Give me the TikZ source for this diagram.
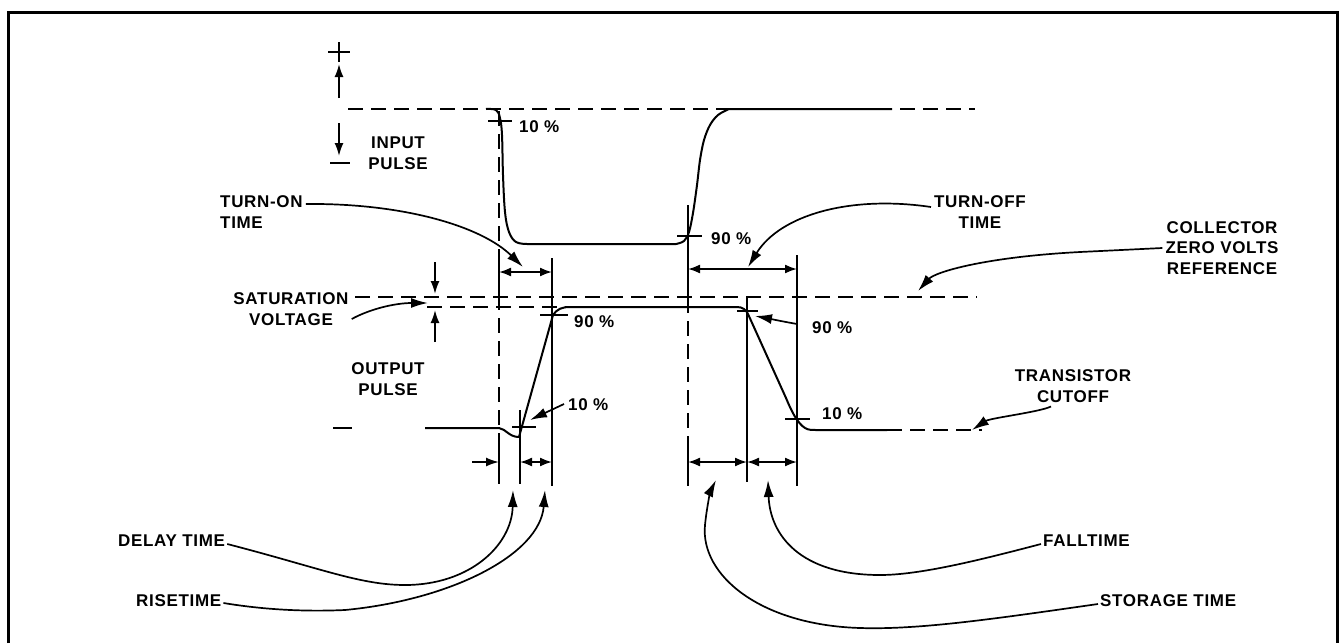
\documentclass[tikz,border=0pt]{standalone}
\usepackage{fontspec}
\setmainfont{Liberation Sans}[LetterSpace=4]
\usetikzlibrary{arrows.meta}
\begin{document}
\begin{tikzpicture}[x=1pt,y=-1pt,
  wave/.style={line width=2pt, line join=round},
  dline/.style={line width=2pt, dash pattern=on 15pt off 8pt},
  ext/.style={line width=2pt},
  tick/.style={line width=1.6pt},
  dim/.style={line width=1.8pt, {Latex[length=12pt,width=9pt]}-{Latex[length=12pt,width=9pt]}},
  onearr/.style={line width=1.8pt, -{Latex[length=13pt,width=9pt]}},
  leader/.style={line width=1.7pt, -{Latex[length=17pt,width=10pt]}},
  lbl/.style={font=\fontsize{17}{20.5}\selectfont\bfseries, align=center, inner sep=0pt},
  pct/.style={font=\fontsize{17}{20}\selectfont\bfseries, anchor=west, inner sep=0pt}]

\useasboundingbox (0,0) rectangle (1341,643);
\draw[line width=3pt] (8,643) -- (8,12) -- (1337,12) -- (1337,643);

% ---------------- input pulse ----------------
\draw[tick] (328,52) -- (350,52);
\draw[tick] (339,42) -- (339,62);
\draw[onearr] (339,98) -- (339,64);
\draw[onearr] (339,123) -- (339,156);
\draw[tick] (330,163) -- (350,163);
\draw[dline] (348,109) -- (975,109);
\draw[wave] plot[smooth, tension=0.6] coordinates {(486,109) (496,110) (500,118) (502,135) (503,175) (505,212) (509,232) (516,242) (527,244)}
  -- (676,244)
  plot[smooth, tension=0.55] coordinates {(676,244) (684,241) (689,232) (693,213) (697,185) (700,160) (704,140) (710,125) (718,115) (729,109)}
  -- (892,109);
\draw[tick] (488,121) -- (512,121);
\draw[tick] (677,236) -- (702,236);
\node[pct] (p10a) at (519,127) {10 \%};
\node[pct] (p90a) at (711,239) {90 \%};

% ---------------- verticals ----------------
\draw[dline] (499,111) -- (499,442);
\draw[ext] (499,256) -- (499,300);
\draw[ext] (499,442) -- (499,484);
\draw[ext] (520,410) -- (520,484);
\draw[ext] (552,258) -- (552,486);
\draw[ext] (688,205) -- (688,298);
\draw[dline] (688,298) -- (688,446);
\draw[ext] (688,446) -- (688,486);
\draw[ext] (747,297) -- (747,482);
\draw[ext] (797,255) -- (797,486);

% ---------------- dimension arrows ----------------
\draw[dim] (499,272) -- (552,272);
\draw[dim] (688,269) -- (797,269);
\draw[onearr] (472,462) -- (499,462);
\draw[dim] (520,462) -- (552,462);
\draw[dim] (688,462) -- (747,462);
\draw[dim] (747,462) -- (797,462);

% ---------------- output pulse ----------------
\draw[dline] (355,297) -- (977,297);
\draw[dline] (427,307) -- (568,307);
\draw[onearr] (435,262) -- (435,294);
\draw[onearr] (435,342) -- (435,310);
\draw[tick] (333,428) -- (352,428);
\draw[wave] (425,428) -- (499,428)
  .. controls (506,429) and (509,437) .. (519,437)
  -- (553,315)
  .. controls (557,309) and (562,307) .. (570,307)
  -- (737,307)
  .. controls (743,307) and (746,310) .. (748,314)
  -- (786,398)
  .. controls (791,410) and (797,423) .. (805,428)
  .. controls (808,430) and (812,430) .. (816,430)
  -- (887,430);
\draw[dline] (887,430) -- (982,430);
\draw[tick] (512,427) -- (536,427);
\draw[tick] (540,315) -- (568,315);
\draw[tick] (737,311) -- (758,311);
\draw[tick] (785,419) -- (810,419);
\node[pct] (p90b) at (574,322) {90 \%};
\node[pct] (p10b) at (568,405) {10 \%};
\node[pct] (p90c) at (812,328) {90 \%};
\node[pct] (p10c) at (822,414) {10 \%};
\coordinate (r10) at (530,420);
\coordinate (f90) at (755,316);
\draw[leader] ([xshift=-4pt,yshift=1pt]p10b.west) -- (r10);
\draw[leader] (797,324) .. controls (780,321) and (766,318) .. (f90);

% ---------------- labels and leaders ----------------
\node[lbl] (inp) at (398,153) {INPUT\\PULSE};
\node[lbl] (outp) at (388,379) {OUTPUT\\PULSE};
\node[lbl, align=left, anchor=west] (ton) at (220,212) {TURN-ON\\TIME};
\node[lbl] (toff) at (980,212) {TURN-OFF\\TIME};
\node[lbl] (czv) at (1222,248) {COLLECTOR\\ZERO VOLTS\\REFERENCE};
\node[lbl] (sat) at (291,309) {SATURATION\\VOLTAGE};
\node[lbl] (tco) at (1073,386) {TRANSISTOR\\CUTOFF};
\node[lbl, anchor=west] (dly) at (118,541) {DELAY TIME};
\node[lbl, anchor=west] (rise) at (136,601) {RISETIME};
\node[lbl, anchor=west] (fall) at (1043,541) {FALLTIME};
\node[lbl, anchor=west] (stor) at (1100,601) {STORAGE TIME};

\coordinate (tonT) at (523,267);
\coordinate (toffT) at (748,267);
\coordinate (czvT) at (918,291);
\coordinate (satT) at (428,303);
\coordinate (tcoT) at (972,430);
\coordinate (dlyT) at (513,490);
\coordinate (riseT) at (545,490);
\coordinate (fallT) at (768,480);
\coordinate (storT) at (716,480);

\draw[leader] ([xshift=3pt,yshift=8pt]ton.east) .. controls (400,203) and (480,225) .. (tonT);
\draw[leader] ([xshift=-3pt,yshift=5pt]toff.west) .. controls (850,195) and (780,215) .. (toffT);
\draw[leader] ([xshift=-3pt]czv.west) -- (1080,252) .. controls (985,257) and (935,272) .. (czvT);
\draw[leader] ([xshift=3pt,yshift=-10pt]sat.east) .. controls (370,309) and (395,303) .. (satT);
\draw[leader] ([xshift=-22pt,yshift=-4pt]tco.south) .. controls (1040,412) and (990,418) .. (tcoT);
\draw[leader] ([xshift=2pt,yshift=-3pt]dly.east) .. controls (320,568) and (360,585) .. (405,585)
   .. controls (470,585) and (512,545) .. (dlyT);
\draw[leader] ([xshift=2pt,yshift=-2pt]rise.east) .. controls (260,609) and (300,612) .. (345,610)
   .. controls (450,600) and (540,555) .. (riseT);
\draw[leader] ([xshift=-2pt,yshift=-3pt]fall.west) .. controls (980,560) and (920,575) .. (880,575)
   .. controls (800,575) and (770,535) .. (fallT);
\draw[leader] ([xshift=-2pt,yshift=-3pt]stor.west) .. controls (1000,618) and (920,630) .. (860,628)
   .. controls (760,625) and (700,575) .. (705,525) .. controls (707,505) and (711,490) .. (storT);
\end{tikzpicture}
\end{document}
